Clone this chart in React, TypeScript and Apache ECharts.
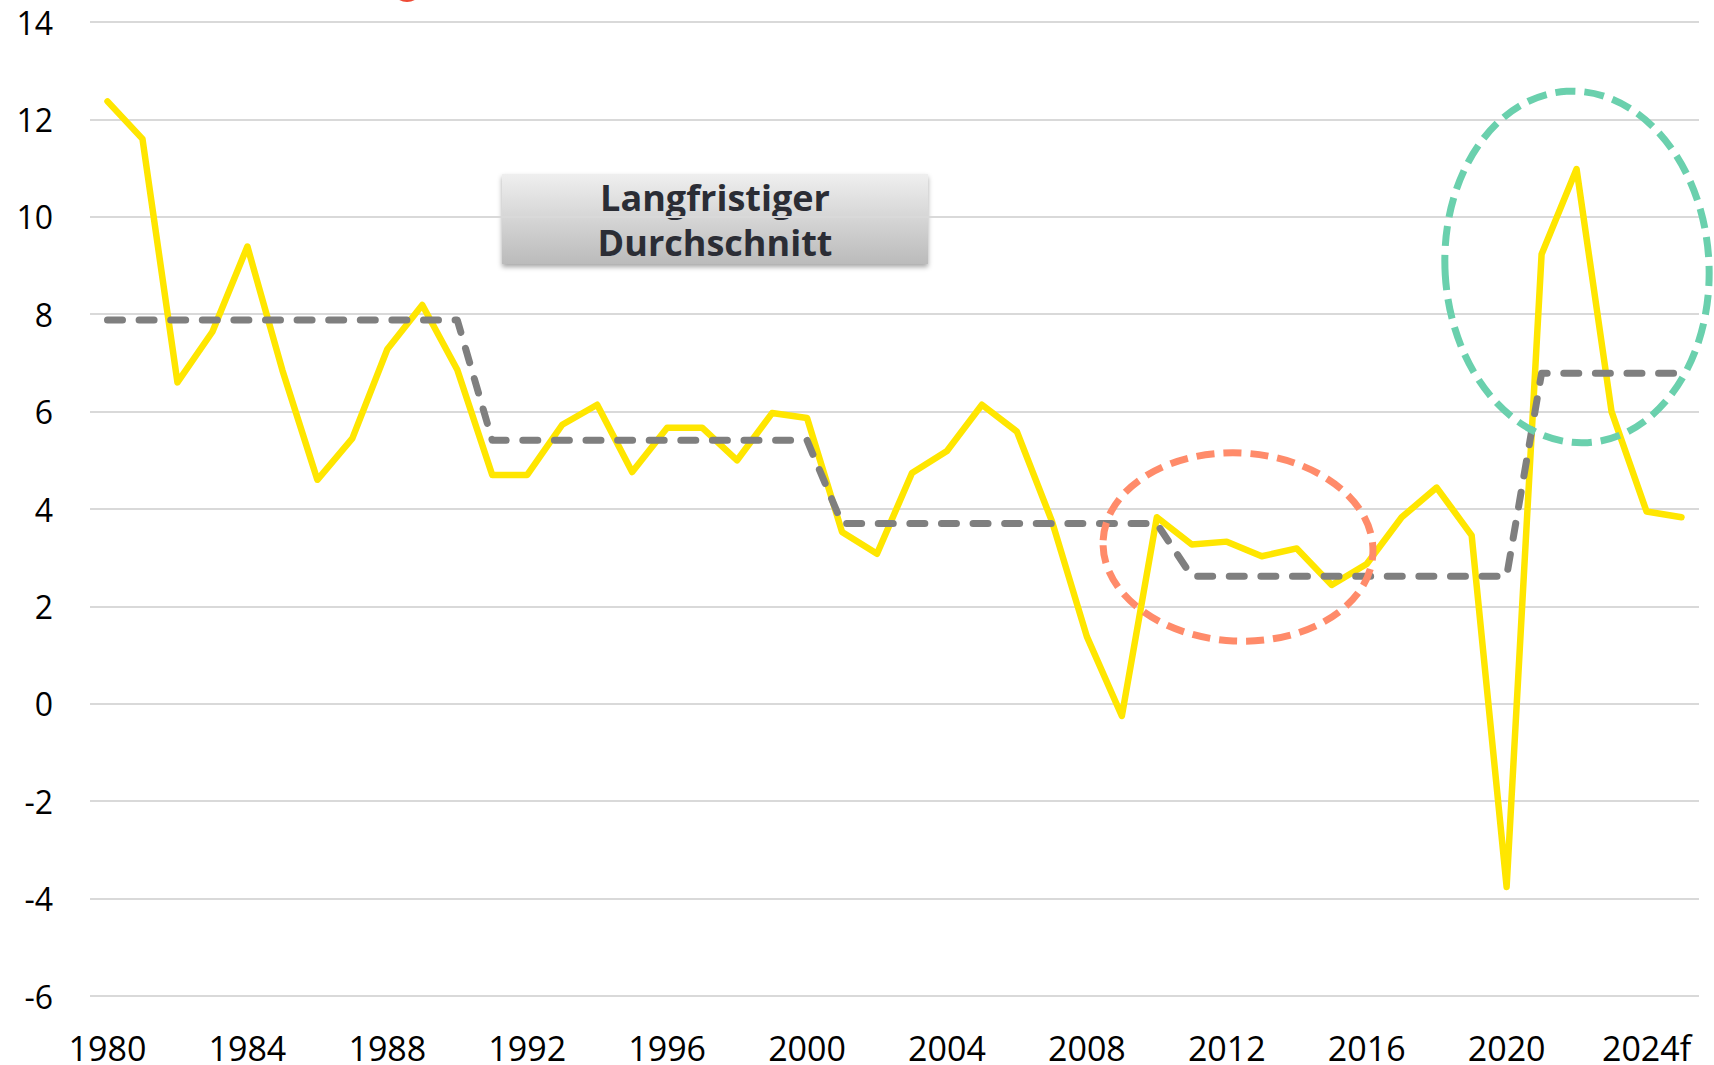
import React, { useEffect, useRef } from "react";
import * as echarts from "echarts";

const years = [
  "1980", "1981", "1982", "1983", "1984", "1985", "1986", "1987", "1988", "1989",
  "1990", "1991", "1992", "1993", "1994", "1995", "1996", "1997", "1998", "1999",
  "2000", "2001", "2002", "2003", "2004", "2005", "2006", "2007", "2008", "2009",
  "2010", "2011", "2012", "2013", "2014", "2015", "2016", "2017", "2018", "2019",
  "2020", "2021", "2022", "2023", "2024f", "2025f",
];

const growth = [
  12.37, 11.6, 6.6, 7.64, 9.39, 6.85, 4.6, 5.45, 7.28, 8.19,
  6.86, 4.7, 4.7, 5.73, 6.14, 4.76, 5.67, 5.67, 5.0, 5.97,
  5.87, 3.53, 3.08, 4.74, 5.19, 6.14, 5.59, 3.75, 1.38, -0.25,
  3.83, 3.27, 3.33, 3.03, 3.19, 2.44, 2.87, 3.83, 4.44, 3.46,
  -3.76, 9.23, 10.98, 6.0, 3.95, 3.83,
];

const longTermAvg = [
  7.88, 7.88, 7.88, 7.88, 7.88, 7.88, 7.88, 7.88, 7.88, 7.88,
  7.88, 5.41, 5.41, 5.41, 5.41, 5.41, 5.41, 5.41, 5.41, 5.41,
  5.41, 3.7, 3.7, 3.7, 3.7, 3.7, 3.7, 3.7, 3.7, 3.7,
  3.7, 2.62, 2.62, 2.62, 2.62, 2.62, 2.62, 2.62, 2.62, 2.62,
  2.62, 6.79, 6.79, 6.79, 6.79, 6.79,
];

const yMin = -6;
const yMax = 14;
const yStep = 2;

const boxLines = ["Langfristiger", "Durchschnitt"];

export default function App() {
  const ref = useRef<HTMLDivElement>(null);

  useEffect(() => {
    if (!ref.current) return;
    const chart = echarts.init(ref.current, undefined, { renderer: "svg" });
    const font = "'Open Sans', 'Noto Sans', sans-serif";
    const boxText = (text: string, y: number) => ({
      type: "text",
      style: {
        x: 715,
        y,
        text,
        fill: "#2B2D35",
        fontSize: 36,
        fontWeight: "bold",
        fontFamily: font,
        lineHeight: 38,
        align: "center",
        verticalAlign: "middle",
      },
    });
    chart.setOption({
      animation: false,
      backgroundColor: "#ffffff",
      grid: { left: 90, right: 15, top: 22, bottom: 69, containLabel: false },
      xAxis: {
        type: "category",
        data: years,
        boundaryGap: true,
        axisLine: { show: false },
        axisTick: { show: false },
        axisLabel: {
          interval: 3,
          margin: 35,
          fontSize: 34,
          color: "#000000",
          fontFamily: font,
        },
        splitLine: { show: false },
      },
      yAxis: {
        type: "value",
        min: yMin,
        max: yMax,
        interval: yStep,
        axisLine: { show: false },
        axisTick: { show: false },
        axisLabel: {
          margin: 37,
          fontSize: 32,
          color: "#000000",
          fontFamily: font,
        },
        splitLine: { lineStyle: { color: "#D9D9D9", width: 2 } },
      },
      series: [
        {
          name: "Wachstum",
          type: "line",
          data: growth,
          symbol: "none",
          z: 2,
          lineStyle: { color: "#FFE600", width: 6.5, join: "round", cap: "round" },
        },
        {
          name: "Langfristiger Durchschnitt",
          type: "line",
          data: longTermAvg,
          symbol: "none",
          z: 3,
          lineStyle: {
            color: "#7F7F7F",
            width: 7,
            type: [15, 16.6],
            cap: "round",
            join: "round",
          },
        },
      ],
      graphic: [
        {
          type: "circle",
          z: 10,
          shape: { cx: 407, cy: -14, r: 16 },
          style: { fill: "#EE4A35" },
        },
        {
          type: "group",
          z: 10,
          children: [
            {
              type: "rect",
              shape: { x: 502, y: 174, width: 426, height: 90 },
              style: {
                fill: new echarts.graphic.LinearGradient(0, 0, 0, 1, [
                  { offset: 0, color: "#EFEFEF" },
                  { offset: 1, color: "#BBBBBB" },
                ]),
                shadowBlur: 5,
                shadowOffsetX: 0,
                shadowOffsetY: 3,
                shadowColor: "rgba(0,0,0,0.35)",
              },
            },
            boxText(boxLines[0], 197.5),
            boxText(boxLines[1], 242.5),
          ],
        },
        {
          type: "ellipse",
          z: 11,
          x: 1238,
          y: 547,
          rotation: -0.05,
          shape: { cx: 0, cy: 0, rx: 135, ry: 94 },
          style: {
            fill: "none",
            stroke: "#FF8B6A",
            lineWidth: 7,
            lineDash: [18, 9],
          },
        },
        {
          type: "ellipse",
          z: 11,
          x: 1577,
          y: 267,
          rotation: 0.06,
          shape: { cx: 0, cy: 0, rx: 132, ry: 176 },
          style: {
            fill: "none",
            stroke: "#6AD0AD",
            lineWidth: 7,
            lineDash: [20, 9],
          },
        },
      ],
    });
    return () => chart.dispose();
  }, []);

  return (
    <div
      ref={ref}
      style={{ position: "fixed", left: 0, top: 0, width: 1714, height: 1065 }}
    />
  );
}
